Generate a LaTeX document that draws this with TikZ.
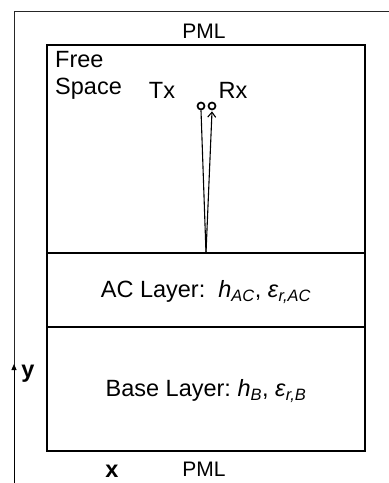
\documentclass[tikz,border=0pt]{standalone}
\usepackage{fontspec}
\setmainfont{Liberation Sans}
\usepackage{tikz}
\usetikzlibrary{arrows.meta,positioning}

\begin{document}
\begin{tikzpicture}[
    x=1pt, y=-1pt,
    every node/.style={font=\fontsize{23.5}{27}\selectfont, inner sep=0pt},
    pml/.style={font=\fontsize{21}{24}\selectfont, anchor=base},
    layer/.style={draw, line width=1.3pt},
    antenna/.style={draw, circle, line width=1.7pt, minimum size=7pt, inner sep=0pt}
]
\useasboundingbox (0,0) rectangle (389,483);

% Outer PML region (cut by the page)
\draw [line width=1pt, black!85] (395,11) -- (14,11) -- (14,490);
\node (pmltop) [pml] at (204,38) {PML};
\node (pmlbot) [pml] at (204,476) {PML};

% Layers
\draw [layer] (47,45) rectangle (365,451);
\draw [layer] (47,253) -- (365,253);
\draw [layer] (47,327) -- (365,327);
\node (free) [anchor=north west, align=left] at (55,51) {Free\\Space};
\node (ac) at (206,292) {AC Layer:\ \ \textit{h}\textsubscript{\textit{AC}}, \textit{ε}\textsubscript{\textit{r,AC}}};
\node (base) at (206,391) {Base Layer:\ \textit{h}\textsubscript{\textit{B}}, \textit{ε}\textsubscript{\textit{r,B}}};

% Antennas
\node (tx) [antenna] at (201,106) {};
\node (rx) [antenna] at (212,106) {};
\node (txlabel) [anchor=base] at (162,98) {Tx};
\node (rxlabel) [anchor=base] at (233,98) {Rx};
\coordinate (feed) at (206,253);
\draw [line width=1.1pt] (feed) -- (tx.south);
\draw [-{Straight Barb[length=5pt, width=8pt]}, line width=1.1pt] (feed) -- ([yshift=-1pt]rx.south);

% Axes
\coordinate (yfoot) at (14,483);
\coordinate (ytip) at (14,364);
\draw [-{Triangle[length=6pt, width=5pt]}, line width=1pt] (yfoot) -- (ytip);
\node (ylabel) [font=\fontsize{23.5}{27}\selectfont\bfseries, anchor=base] at (28,377) {y};
\node (xlabel) [font=\fontsize{23.5}{27}\selectfont\bfseries, anchor=base] at (112,477) {x};
\end{tikzpicture}
\end{document}
